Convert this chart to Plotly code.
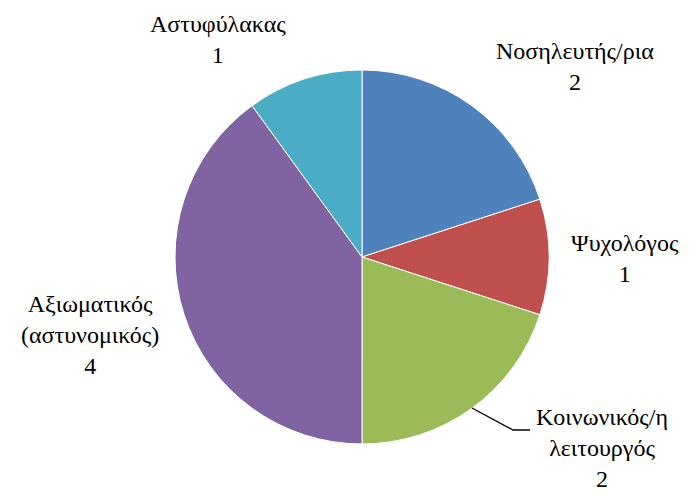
import plotly.graph_objects as go

roles = ["Νοσηλευτής/ρια", "Ψυχολόγος", "Κοινωνικός/η<br>λειτουργός",
         "Αξιωματικός<br>(αστυνομικός)", "Αστυφύλακας"]
counts = [2, 1, 2, 4, 1]
colors = ["#4F81BD", "#C0504D", "#9BBB59", "#8064A2", "#4BACC6"]

# label centres (pixels)
label_px = [(575, 66), (625, 258), (602, 448), (90, 335), (218, 40)]

W, H = 694, 494
font = dict(family="Liberation Serif, Times New Roman, serif", size=24, color="black")

fig = go.Figure(go.Pie(
    labels=roles,
    values=counts,
    sort=False,
    direction="clockwise",
    rotation=0,
    textinfo="none",
    hoverinfo="label+value",
    marker=dict(colors=colors, line=dict(color="white", width=1)),
    domain=dict(x=[175 / W, 549 / W], y=[1 - 444 / H, 1 - 70 / H]),
    showlegend=False,
))

for lab, n, (px_, py_) in zip(roles, counts, label_px):
    fig.add_annotation(
        x=px_ / W, y=1 - py_ / H, xref="paper", yref="paper",
        text=f"{lab}<br>{n}", showarrow=False, align="center",
        xanchor="center", yanchor="middle", font=font,
    )

# leader line for the social worker label
fig.add_shape(type="path", xref="paper", yref="paper",
              path=f"M {472/W} {1-408/H} L {513/W} {1-430/H} L {530/W} {1-430/H}",
              line=dict(color="black", width=1.3))

fig.update_layout(
    width=W, height=H,
    margin=dict(l=0, r=0, t=0, b=0),
    paper_bgcolor="white", plot_bgcolor="white",
)

fig.write_html("out.html", config={"displayModeBar": False},
               post_script="document.body.style.margin='0';")
